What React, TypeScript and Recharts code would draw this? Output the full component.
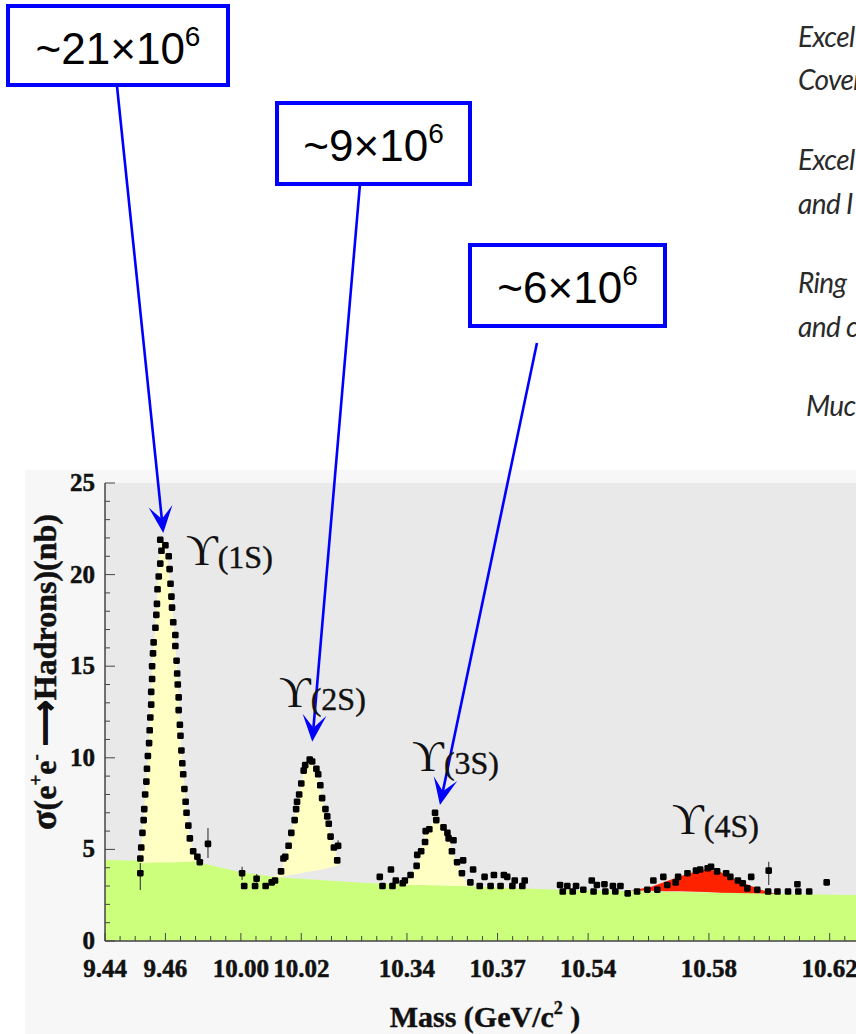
import React from "react";
import {
  ComposedChart,
  XAxis,
  YAxis,
  Area,
  Scatter,
  ErrorBar,
  CartesianGrid,
  ReferenceLine,
  ReferenceDot,
} from "recharts";

// ---------- axis break: each mass window is placed side by side ----------
const SEGMENTS = [
  { lo: 9.0, hi: 9.7, m0: 9.44, u0: 9.44 },
  { lo: 9.7, hi: 10.2, m0: 10.0, u0: 9.485 },
  { lo: 10.2, hi: 10.45, m0: 10.34, u0: 9.54 },
  { lo: 10.45, hi: 11.0, m0: 10.54, u0: 9.6 },
];
const toAxis = (m: number) => {
  const s = SEGMENTS.find((g) => m >= g.lo && m < g.hi) || SEGMENTS[0];
  return s.u0 + (m - s.m0);
};

// ---------- tick labels ----------
const TICK_MASSES = [9.44, 9.46, 10.0, 10.02, 10.34, 10.37, 10.54, 10.58, 10.62];
const TICK_LABELS = ["9.44", "9.46", "10.00", "10.02", "10.34", "10.37", "10.54", "10.58", "10.62"];
const Y_TICKS = [0, 1, 2, 3, 4, 5, 6, 7, 8, 9, 10, 11, 12, 13, 14, 15, 16, 17, 18, 19, 20, 21, 22, 23, 24, 25];

// ---------- continuum (green) ----------
const CONT_MASS = [9.44, 9.47, 10.0, 10.012, 10.04, 10.33, 10.358, 10.53, 10.58, 10.625, 10.64];
const CONT_XSEC = [4.42, 4.33, 3.75, 3.48, 3.18, 3.14, 3.0, 2.8, 2.65, 2.51, 2.5];

// ---------- resonance fills ----------
const Y1S_FILL_MASS = [9.4515, 9.452, 9.453, 9.4546, 9.4556, 9.457, 9.4583, 9.46, 9.4617, 9.4637, 9.4653, 9.4667, 9.4681, 9.4692, 9.4706, 9.4714];
const Y1S_FILL_LO = [4.24, 4.25, 4.26, 4.27, 4.27, 4.28, 4.28, 4.29, 4.29, 4.3, 4.31, 4.32, 4.33, 4.34, 4.35, 4.36];
const Y1S_FILL_HI = [4.24, 5.1, 7.2, 10.8, 15.0, 17.8, 21.9, 21.6, 19.5, 15.3, 10.4, 7.6, 5.6, 4.9, 4.6, 4.36];

const Y2S_FILL_MASS = [10.0107, 10.0133, 10.0147, 10.0167, 10.0183, 10.02, 10.0213, 10.0228, 10.025, 10.0269, 10.0286, 10.0297, 10.0308, 10.0322];
const Y2S_FILL_LO = [3.44, 3.5, 3.55, 3.6, 3.65, 3.7, 3.75, 3.8, 3.85, 3.9, 3.98, 4.02, 4.07, 4.15];
const Y2S_FILL_HI = [3.44, 3.8, 4.6, 5.9, 7.2, 8.6, 9.6, 9.9, 9.4, 7.8, 6.8, 5.7, 5.1, 4.4];

const Y3S_FILL_MASS = [10.3387, 10.3412, 10.3432, 10.3447, 10.3462, 10.3474, 10.3493, 10.3521, 10.3538, 10.3549, 10.3566, 10.3582, 10.36];
const Y3S_FILL_LO = [3.05, 3.05, 3.05, 3.05, 3.05, 3.04, 3.04, 3.03, 3.02, 3.02, 3.01, 3.0, 3.0];
const Y3S_FILL_HI = [3.1, 3.6, 4.1, 4.9, 6.0, 6.1, 7.0, 6.2, 5.6, 4.9, 4.3, 3.7, 3.0];

const Y4S_FILL_MASS = [10.554, 10.5607, 10.5657, 10.5707, 10.5757, 10.5793, 10.584, 10.589, 10.594, 10.599, 10.6023];
const Y4S_FILL_LO = [2.76, 2.74, 2.72, 2.71, 2.69, 2.68, 2.64, 2.62, 2.61, 2.59, 2.58];
const Y4S_FILL_HI = [2.76, 2.95, 3.25, 3.55, 3.8, 3.95, 3.75, 3.35, 3.0, 2.7, 2.58];

// ---------- measured points ----------
const PTS_1S_MASS = [
  9.4517, 9.452, 9.4524, 9.4528, 9.453, 9.4533, 9.4537, 9.4539, 9.4542, 9.4546, 9.4548, 9.455, 9.4553, 9.4553,
  9.4556, 9.4556, 9.4559, 9.4561, 9.4567, 9.457, 9.4572, 9.4574, 9.4578, 9.4583, 9.4587, 9.4583,
  9.46, 9.4611, 9.4614, 9.4617, 9.462, 9.4622, 9.4626, 9.4633, 9.4633, 9.4637, 9.4639, 9.4641, 9.4644, 9.4644,
  9.4648, 9.465, 9.4653, 9.4656, 9.4659, 9.4663, 9.4667, 9.467, 9.4676, 9.4681, 9.4692, 9.4706, 9.4714,
];
const PTS_1S_XSEC = [
  4.5, 5.1, 5.9, 6.6, 7.2, 8.0, 8.7, 9.4, 10.1, 10.8, 11.5, 12.2, 12.9, 13.6,
  14.3, 15.0, 15.7, 16.3, 17.1, 17.8, 18.4, 19.2, 19.9, 20.6, 21.3, 21.9,
  21.6, 21.0, 20.3, 19.5, 18.8, 18.2, 17.4, 16.7, 16.1, 15.3, 14.6, 14.0, 13.3, 12.6,
  11.8, 11.2, 10.4, 9.7, 9.1, 8.3, 7.6, 7.0, 6.3, 5.6, 4.9, 4.6, 4.3,
];
const PTS_2S_MASS = [
  10.0011, 10.0047, 10.0082, 10.0102, 10.0113, 10.0133, 10.0141, 10.0147, 10.0158, 10.0167, 10.0178, 10.0183,
  10.0186, 10.0193, 10.02, 10.0208, 10.0213, 10.0228, 10.0236, 10.025, 10.0256, 10.0263, 10.0269, 10.028,
  10.0286, 10.0291, 10.0297, 10.0308, 10.0319,
];
const PTS_2S_XSEC = [
  3.0, 3.0, 3.0, 3.2, 3.3, 3.8, 4.5, 4.6, 5.2, 5.9, 6.6, 7.2,
  7.6, 8.0, 8.6, 9.3, 9.6, 9.9, 9.8, 9.4, 9.1, 8.5, 7.8, 7.2,
  6.8, 6.4, 5.7, 5.1, 4.4,
];
const PTS_3S_MASS = [
  10.331, 10.3319, 10.3347, 10.3352, 10.3363, 10.3386, 10.3393, 10.3412, 10.3432, 10.3434, 10.3447, 10.346,
  10.3462, 10.3474, 10.3493, 10.3497, 10.3521, 10.3534, 10.3538, 10.3554, 10.3549, 10.3566, 10.3586, 10.3582,
  10.361, 10.3619, 10.3641, 10.3657, 10.3677, 10.3688, 10.371, 10.3721, 10.3732, 10.3749, 10.3757, 10.3782, 10.379,
];
const PTS_3S_XSEC = [
  3.5, 3.0, 3.9, 3.0, 3.3, 3.15, 3.3, 3.6, 4.1, 4.7, 4.9, 5.4,
  6.0, 6.1, 7.0, 6.6, 6.2, 5.9, 5.6, 5.5, 4.9, 4.3, 4.4, 3.7,
  3.2, 3.9, 3.0, 3.5, 3.0, 3.6, 3.0, 3.6, 3.5, 3.0, 3.3, 3.0, 3.3,
];
const PTS_4S_MASS = [
  10.5307, 10.5316, 10.5331, 10.5349, 10.536, 10.5384, 10.5412, 10.5418, 10.5429, 10.5454, 10.5457, 10.5482,
  10.549, 10.5507, 10.5531, 10.5562, 10.5596, 10.5616, 10.5629, 10.5649, 10.5662, 10.569, 10.5698, 10.5729,
  10.5757, 10.5771, 10.5796, 10.5807, 10.5827, 10.5857, 10.5871, 10.5896, 10.5912, 10.5927, 10.594, 10.596,
  10.5996, 10.6027, 10.6062, 10.6093, 10.6096, 10.6132, 10.619,
];
const PTS_4S_XSEC = [
  3.06, 2.7, 3.0, 2.7, 3.0, 2.8, 3.3, 2.7, 3.06, 3.1, 2.7, 3.0,
  2.7, 3.0, 2.6, 2.7, 2.8, 3.3, 2.8, 3.5, 3.06, 3.2, 3.5, 3.7,
  3.84, 3.9, 3.97, 4.05, 3.8, 3.7, 3.5, 3.3, 3.15, 2.87, 3.5, 2.8,
  2.7, 2.7, 2.7, 3.1, 2.7, 2.7, 3.2,
];
// points drawn with error bars
const ERR_MASS = [9.4517, 9.4741, 10.0004, 10.0052, 10.0322, 10.5998];
const ERR_XSEC = [3.7, 5.3, 3.7, 3.4, 5.2, 3.84];
const ERR_DOWN = [0.92, 0.77, 0.37, 0.2, 0.2, 0.78];
const ERR_UP = [0.56, 0.87, 0.35, 0.25, 0.3, 0.49];

// ---------- annotations ----------
const STATE_NAMES = ["1S", "2S", "3S", "4S"];
const STATE_LABEL_MASS = [9.4668, 10.0126, 10.3417, 10.5678];
const STATE_LABEL_XSEC = [20.5, 12.8, 9.3, 5.85];
const YIELD_MANTISSA = ["21", "9", "6"];
const ARROW_TAIL_U = [9.44397, 9.52444, 9.58305];
const ARROW_TAIL_V = [46.67, 41.32, 32.64];
const ARROW_TIP_U = [9.4593, 9.50864, 9.55093];
const ARROW_TIP_V = [22.27, 10.88, 7.42];

// ---------- build rows ----------
const pts = (ms: number[], vs: number[]) => ms.map((m, i) => ({ u: toAxis(m), v: vs[i] }));
const rng = (ms: number[], lo: number[], hi: number[]) =>
  ms.map((m, i) => ({ u: toAxis(m), range: [lo[i], hi[i]] }));

const contRows = pts(CONT_MASS, CONT_XSEC);
const fill1 = rng(Y1S_FILL_MASS, Y1S_FILL_LO, Y1S_FILL_HI);
const fill2 = rng(Y2S_FILL_MASS, Y2S_FILL_LO, Y2S_FILL_HI);
const fill3 = rng(Y3S_FILL_MASS, Y3S_FILL_LO, Y3S_FILL_HI);
const fill4 = rng(Y4S_FILL_MASS, Y4S_FILL_LO, Y4S_FILL_HI);
const pointRows = [
  ...pts(PTS_1S_MASS, PTS_1S_XSEC),
  ...pts(PTS_2S_MASS, PTS_2S_XSEC),
  ...pts(PTS_3S_MASS, PTS_3S_XSEC),
  ...pts(PTS_4S_MASS, PTS_4S_XSEC),
];
const errRows = ERR_MASS.map((m, i) => ({ u: toAxis(m), v: ERR_XSEC[i], err: [ERR_DOWN[i], ERR_UP[i]] }));

const MAJOR_U = TICK_MASSES.map(toAxis);
const X_TICKS: number[] = [];
for (let k = 0; k <= 50; k++) X_TICKS.push(Math.round((9.44 + k * 0.005) * 100000) / 100000);

const SERIF = "'Liberation Serif', 'Times New Roman', serif";
const SANS = "'Liberation Sans', Arial, sans-serif";
const AXIS = "#444";

const majorIndex = (v: number) => MAJOR_U.findIndex((u) => Math.abs(u - v) < 1e-6);

const XTickBottom = (p: any) => {
  const { x, y, payload } = p;
  const idx = majorIndex(payload.value);
  const len = idx >= 0 ? 8 : 5;
  return (
    <g>
      <line x1={x} y1={y} x2={x} y2={y - len} stroke={AXIS} strokeWidth={1} />
      {idx >= 0 && (
        <text
          x={x}
          y={y + 36}
          textAnchor="middle"
          fontFamily={SERIF}
          fontWeight="bold"
          fontSize={25}
          fill="#111"
          stroke="#111"
          strokeWidth={0.5}
        >
          {TICK_LABELS[idx]}
        </text>
      )}
    </g>
  );
};
const XTickTop = (p: any) => {
  const { x, y, payload } = p;
  const idx = majorIndex(payload.value);
  const len = idx >= 0 ? 8 : 5;
  return <line x1={x} y1={y} x2={x} y2={y + len} stroke={AXIS} strokeWidth={1} />;
};
const YTick = (p: any) => {
  const { x, y, payload } = p;
  const major = payload.value % 5 === 0;
  return (
    <g>
      <line x1={x} y1={y} x2={x + (major ? 10 : 5)} y2={y} stroke={AXIS} strokeWidth={1} />
      {major && (
        <text
          x={x - 10}
          y={y + 8}
          textAnchor="end"
          fontFamily={SERIF}
          fontWeight="bold"
          fontSize={25}
          fill="#111"
          stroke="#111"
          strokeWidth={0.5}
        >
          {payload.value}
        </text>
      )}
    </g>
  );
};

const Square = (p: any) => (
  <rect x={p.cx - 3.3} y={p.cy - 3.3} width={6.6} height={6.6} rx={1.4} fill="#000" />
);

const ArrowShape = (p: any) => {
  const { x1, y1, x2, y2 } = p;
  const dx = x2 - x1;
  const dy = y2 - y1;
  const L = Math.hypot(dx, dy) || 1;
  const ux = dx / L;
  const uy = dy / L;
  const nx = -uy;
  const ny = ux;
  const head = 27;
  const half = 12;
  const notch = 14;
  const bx = x2 - ux * head;
  const by = y2 - uy * head;
  const pts = [
    [x2, y2],
    [bx + nx * half, by + ny * half],
    [x2 - ux * notch, y2 - uy * notch],
    [bx - nx * half, by - ny * half],
  ]
    .map((q) => q.join(","))
    .join(" ");
  return (
    <g>
      <line x1={x1} y1={y1} x2={x2 - ux * notch} y2={y2 - uy * notch} stroke="#0000ff" strokeWidth={2.6} />
      <polygon points={pts} fill="#0000ff" />
    </g>
  );
};

const StateLabel = (name: string) => (p: any) => (
  <text x={p.cx} y={p.cy} fill="#111">
    <tspan fontFamily="'Liberation Serif', 'DejaVu Serif', serif" fontSize={44}>
      ϒ
    </tspan>
    <tspan fontFamily={SERIF} fontSize={32} dy={3} stroke="#111" strokeWidth={0.4}>
      ({name})
    </tspan>
  </text>
);

const BOXES = [
  { x: 8, y: 6, w: 220, h: 79 },
  { x: 277, y: 103, w: 193, h: 81 },
  { x: 470, y: 245, w: 195, h: 81 },
];

const RIGHT_TEXT = [
  { t: "Excel", x: 798, y: 47 },
  { t: "Cover", x: 798, y: 90 },
  { t: "Excel", x: 798, y: 170 },
  { t: "and I", x: 798, y: 214 },
  { t: "Ring", x: 798, y: 293 },
  { t: "and c", x: 798, y: 337 },
  { t: "Muc", x: 806, y: 416 },
];

export default function App() {
  return (
    <div
      style={{
        position: "absolute",
        left: 0,
        top: 0,
        width: 856,
        height: 1034,
        overflow: "hidden",
        background: "#fff",
      }}
    >
      <div style={{ position: "absolute", left: 25, top: 470, width: 831, height: 564, background: "#f7f7f7" }} />
      <div style={{ position: "absolute", left: 0, top: 0 }}>
        <ComposedChart width={875} height={1034} margin={{ top: 483, right: 0, bottom: 53, left: 45 }}>
          <CartesianGrid fill="#e9e9e9" horizontal={false} vertical={false} />
          <XAxis
            dataKey="u"
            type="number"
            domain={[9.44, 9.695]}
            allowDataOverflow
            ticks={X_TICKS}
            interval={0}
            height={40}
            tickSize={0}
            tickMargin={0}
            tickLine={false}
            tick={<XTickBottom />}
            axisLine={{ stroke: AXIS, strokeWidth: 1.5 }}
          />
          <XAxis
            xAxisId="top"
            orientation="top"
            dataKey="u"
            type="number"
            domain={[9.44, 9.695]}
            allowDataOverflow
            ticks={X_TICKS}
            interval={0}
            height={0}
            tickSize={0}
            tickMargin={0}
            tickLine={false}
            tick={<XTickTop />}
            axisLine={{ stroke: AXIS, strokeWidth: 1.5 }}
          />
          <YAxis
            dataKey="v"
            type="number"
            domain={[0, 25]}
            allowDataOverflow
            ticks={Y_TICKS}
            interval={0}
            width={60}
            tickSize={0}
            tickMargin={0}
            tickLine={false}
            tick={<YTick />}
            axisLine={{ stroke: AXIS, strokeWidth: 1.5 }}
          />
          <Area
            data={contRows}
            dataKey="v"
            type="linear"
            stroke="none"
            fill="#ccff7c"
            fillOpacity={1}
            dot={false}
            activeDot={false}
            isAnimationActive={false}
          />
          {[fill1, fill2, fill3].map((d, i) => (
            <Area
              key={"y" + i}
              data={d}
              dataKey="range"
              type="linear"
              stroke="none"
              fill="#ffffc4"
              fillOpacity={1}
              dot={false}
              activeDot={false}
              isAnimationActive={false}
            />
          ))}
          <Area
            data={fill4}
            dataKey="range"
            type="linear"
            stroke="none"
            fill="#ff2200"
            fillOpacity={1}
            dot={false}
            activeDot={false}
            isAnimationActive={false}
          />
          <Scatter data={pointRows} shape={Square} isAnimationActive={false} />
          <Scatter data={errRows} shape={Square} isAnimationActive={false}>
            <ErrorBar dataKey="err" direction="y" width={0} stroke="#444" strokeWidth={1.2} />
          </Scatter>
          {STATE_NAMES.map((n, i) => (
            <ReferenceDot
              key={n}
              x={toAxis(STATE_LABEL_MASS[i])}
              y={STATE_LABEL_XSEC[i]}
              r={0}
              ifOverflow="visible"
              shape={StateLabel(n)}
            />
          ))}
          {ARROW_TIP_U.map((u, i) => (
            <ReferenceLine
              key={"a" + i}
              segment={[
                { x: ARROW_TAIL_U[i], y: ARROW_TAIL_V[i] },
                { x: u, y: ARROW_TIP_V[i] },
              ]}
              ifOverflow="visible"
              shape={ArrowShape}
            />
          ))}
        </ComposedChart>
      </div>
      <svg width={856} height={1034} style={{ position: "absolute", left: 0, top: 0, pointerEvents: "none" }}>
        {BOXES.map((b, i) => (
          <g key={i}>
            <rect x={b.x} y={b.y} width={b.w} height={b.h} fill="#fff" stroke="#0000ff" strokeWidth={4} />
            <text
              x={b.x + b.w / 2}
              y={b.y + 58}
              textAnchor="middle"
              fontFamily={SANS}
              fontSize={44}
              fill="#000"
            >
              ~{YIELD_MANTISSA[i]}×10
              <tspan fontSize={28} dy={-18}>
                6
              </tspan>
            </text>
          </g>
        ))}
        <text
          transform="translate(56,672) rotate(-90)"
          textAnchor="middle"
          fontFamily={SERIF}
          fontWeight="bold"
          fontSize={32}
          fill="#111"
          stroke="#111"
          strokeWidth={0.5}
        >
          <tspan fontSize={36}>σ</tspan>
          <tspan fontSize={32}>(e</tspan>
          <tspan fontSize={19} dy={-14}>
            +
          </tspan>
          <tspan fontSize={32} dy={14}>
            e
          </tspan>
          <tspan fontSize={19} dy={-14}>
            -
          </tspan>
          <tspan fontSize={32} dy={14}>
            {" ⟶Hadrons)(nb)"}
          </tspan>
        </text>
        <text
          x={485}
          y={1027}
          textAnchor="middle"
          fontFamily={SERIF}
          fontWeight="bold"
          fontSize={30}
          fill="#111"
          stroke="#111"
          strokeWidth={0.4}
        >
          Mass (GeV/c
          <tspan fontSize={18} dy={-13}>
            2
          </tspan>
          <tspan dy={13} fontSize={30}>
            {" )"}
          </tspan>
        </text>
        {RIGHT_TEXT.map((r, i) => (
          <text
            key={i}
            x={r.x}
            y={r.y}
            fontFamily="Lato, 'Open Sans', sans-serif"
            fontStyle="italic"
            fontSize={28}
            letterSpacing={-0.6}
            fill="#2a2a2a"
          >
            {r.t}
          </text>
        ))}
      </svg>
    </div>
  );
}
